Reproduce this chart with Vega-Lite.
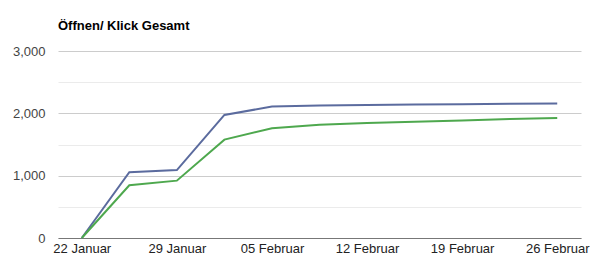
{
  "$schema": "https://vega.github.io/schema/vega-lite/v6.json",
  "width": 523,
  "height": 187,
  "autosize": "none",
  "padding": {"left": 58, "top": 51, "right": 19, "bottom": 33},
  "background": "white",
  "title": {
    "text": "Öffnen/ Klick Gesamt",
    "anchor": "start",
    "frame": "group",
    "baseline": "alphabetic",
    "offset": 24,
    "dy": 22,
    "font": "Liberation Sans",
    "fontSize": 13,
    "fontWeight": "bold",
    "color": "#000000"
  },
  "data": {
    "values": [
      {"datum": "22 Januar", "serie": "Öffnen", "wert": 0},
      {"datum": "25 Januar", "serie": "Öffnen", "wert": 1055},
      {"datum": "29 Januar", "serie": "Öffnen", "wert": 1090},
      {"datum": "01 Februar", "serie": "Öffnen", "wert": 1975},
      {"datum": "05 Februar", "serie": "Öffnen", "wert": 2108},
      {"datum": "08 Februar", "serie": "Öffnen", "wert": 2125},
      {"datum": "12 Februar", "serie": "Öffnen", "wert": 2133},
      {"datum": "15 Februar", "serie": "Öffnen", "wert": 2140},
      {"datum": "19 Februar", "serie": "Öffnen", "wert": 2146},
      {"datum": "22 Februar", "serie": "Öffnen", "wert": 2152},
      {"datum": "26 Februar", "serie": "Öffnen", "wert": 2156},
      {"datum": "22 Januar", "serie": "Klick", "wert": 0},
      {"datum": "25 Januar", "serie": "Klick", "wert": 845},
      {"datum": "29 Januar", "serie": "Klick", "wert": 920},
      {"datum": "01 Februar", "serie": "Klick", "wert": 1578},
      {"datum": "05 Februar", "serie": "Klick", "wert": 1762},
      {"datum": "08 Februar", "serie": "Klick", "wert": 1815},
      {"datum": "12 Februar", "serie": "Klick", "wert": 1845},
      {"datum": "15 Februar", "serie": "Klick", "wert": 1866},
      {"datum": "19 Februar", "serie": "Klick", "wert": 1887},
      {"datum": "22 Februar", "serie": "Klick", "wert": 1908},
      {"datum": "26 Februar", "serie": "Klick", "wert": 1927}
    ]
  },
  "mark": {"type": "line", "strokeWidth": 2, "interpolate": "linear"},
  "encoding": {
    "x": {
      "field": "datum",
      "type": "ordinal",
      "sort": null,
      "scale": {"type": "point", "padding": 0.5},
      "axis": {
        "title": null,
        "values": ["22 Januar", "29 Januar", "05 Februar", "12 Februar", "19 Februar", "26 Februar"],
        "labelAngle": 0,
        "labelFont": "Liberation Sans",
        "labelFontSize": 13,
        "labelColor": "#222222",
        "labelPadding": 4,
        "ticks": false,
        "domain": true,
        "domainColor": "#777777",
        "domainWidth": 1,
        "grid": false
      }
    },
    "y": {
      "field": "wert",
      "type": "quantitative",
      "scale": {"domain": [0, 3000], "nice": false},
      "axis": {
        "title": null,
        "values": [0, 500, 1000, 1500, 2000, 2500, 3000],
        "labelExpr": "datum.value % 1000 === 0 ? format(datum.value, ',') : ''",
        "labelFont": "Liberation Sans",
        "labelFontSize": 13,
        "labelColor": "#444444",
        "labelPadding": 13,
        "ticks": false,
        "domain": false,
        "grid": true,
        "gridColor": {"condition": {"test": "datum.value % 1000 === 0", "value": "#cccccc"}, "value": "#ebebeb"},
        "gridWidth": 1
      }
    },
    "color": {
      "field": "serie",
      "type": "nominal",
      "scale": {"domain": ["Öffnen", "Klick"], "range": ["#5b6b9e", "#4ea84e"]},
      "legend": null
    }
  },
  "config": {"view": {"stroke": null}}
}
